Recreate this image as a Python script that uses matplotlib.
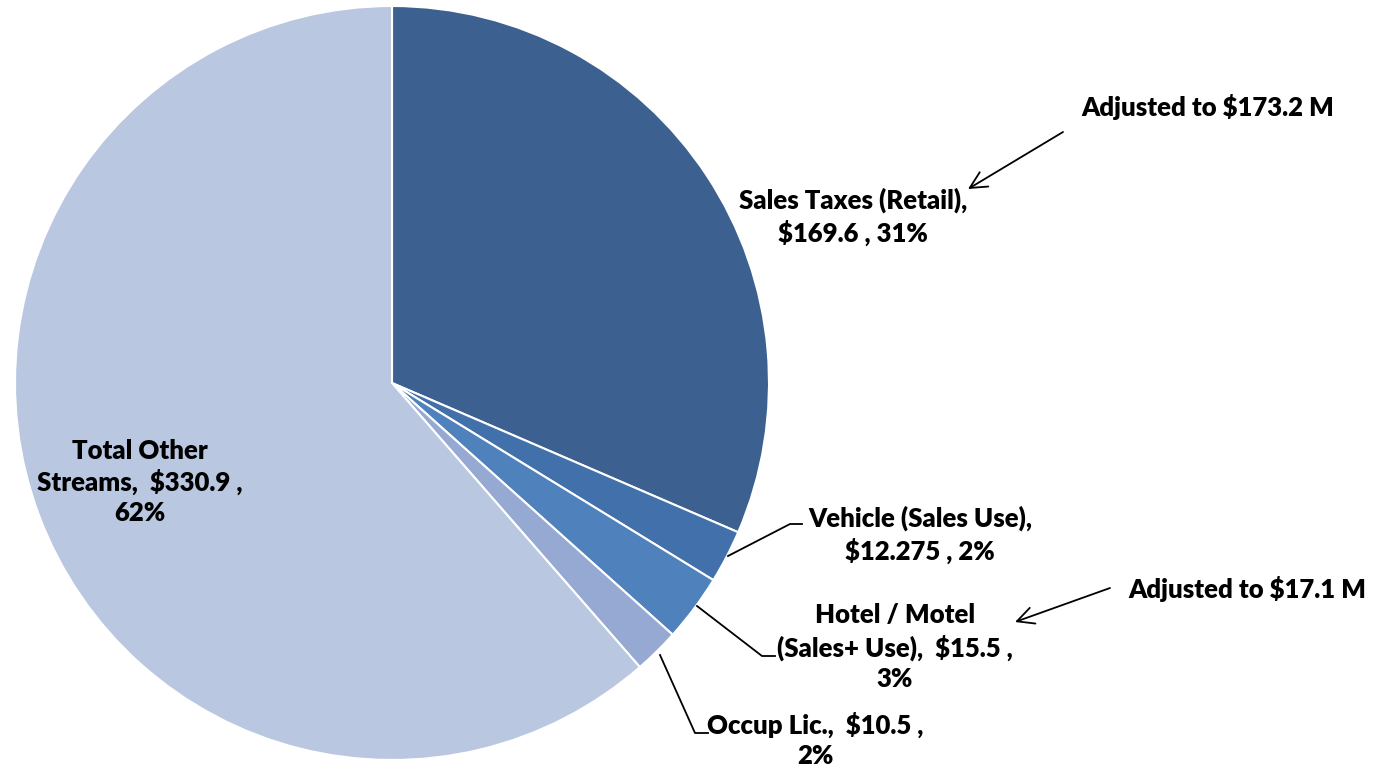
import matplotlib
matplotlib.use("Agg")
import matplotlib.pyplot as plt

categories = ["Sales Taxes (Retail)", "Vehicle (Sales Use)", "Hotel / Motel (Sales+ Use)",
              "Occup Lic.", "Total Other Streams"]
values = [169.6, 12.275, 15.5, 10.5, 330.9]
label_texts = ["Sales Taxes (Retail),\n$169.6 , 31%",
               "Vehicle (Sales Use),\n$12.275 , 2%",
               "Hotel / Motel\n(Sales+ Use),  $15.5 ,\n3%",
               "Occup Lic.,  $10.5 ,\n2%",
               "Total Other\nStreams,  $330.9 ,\n62%"]
colors = ["#3C6190", "#4270AA", "#4F81BD", "#95A9D2", "#BAC7E1"]
notes = ["Adjusted to $173.2 M", "Adjusted to $17.1 M"]

W, H = 1384, 771
fig = plt.figure(figsize=(W / 100, H / 100), dpi=100)
ax = fig.add_axes([0, 0, 1, 1])

def Y(y):
    return H - y

ax.pie(values, colors=colors, startangle=90, counterclock=False,
       center=(392, Y(383)), radius=377, frame=True,
       wedgeprops=dict(edgecolor="white", linewidth=1.5))
ax.set_xlim(0, W)
ax.set_ylim(0, H)
ax.set_aspect("equal")
ax.axis("off")

font = dict(family=["Lato", "DejaVu Sans"], fontweight="heavy", fontsize=18.5,
            color="black", ha="center", va="center", linespacing=1.3)

label_pos = [(853, 217), (920, 535), (895, 647), (815, 740), (140, 482)]
for txt, (x, y) in zip(label_texts, label_pos):
    ax.text(x, Y(y), txt, **font)

# leader lines
leaders = [
    [(728, 556), (790, 524), (802, 524)],
    [(697, 606), (762, 656), (775, 656)],
    [(660, 655), (695, 733), (708, 733)],
]
for pts in leaders:
    ax.plot([p[0] for p in pts], [Y(p[1]) for p in pts], color="black", lw=1.3)

# notes with arrows
ax.text(1208, Y(107), notes[0], **font)
ax.text(1247, Y(589), notes[1], **font)
ax.annotate("", xy=(968, Y(189)), xytext=(1063, Y(132)),
            arrowprops=dict(arrowstyle="->", color="black", lw=1.3,
                            mutation_scale=30, shrinkA=0, shrinkB=0))
ax.annotate("", xy=(1015, Y(622)), xytext=(1110, Y(588)),
            arrowprops=dict(arrowstyle="->", color="black", lw=1.3,
                            mutation_scale=30, shrinkA=0, shrinkB=0))

fig.savefig("out.png", dpi=100, facecolor="white")
